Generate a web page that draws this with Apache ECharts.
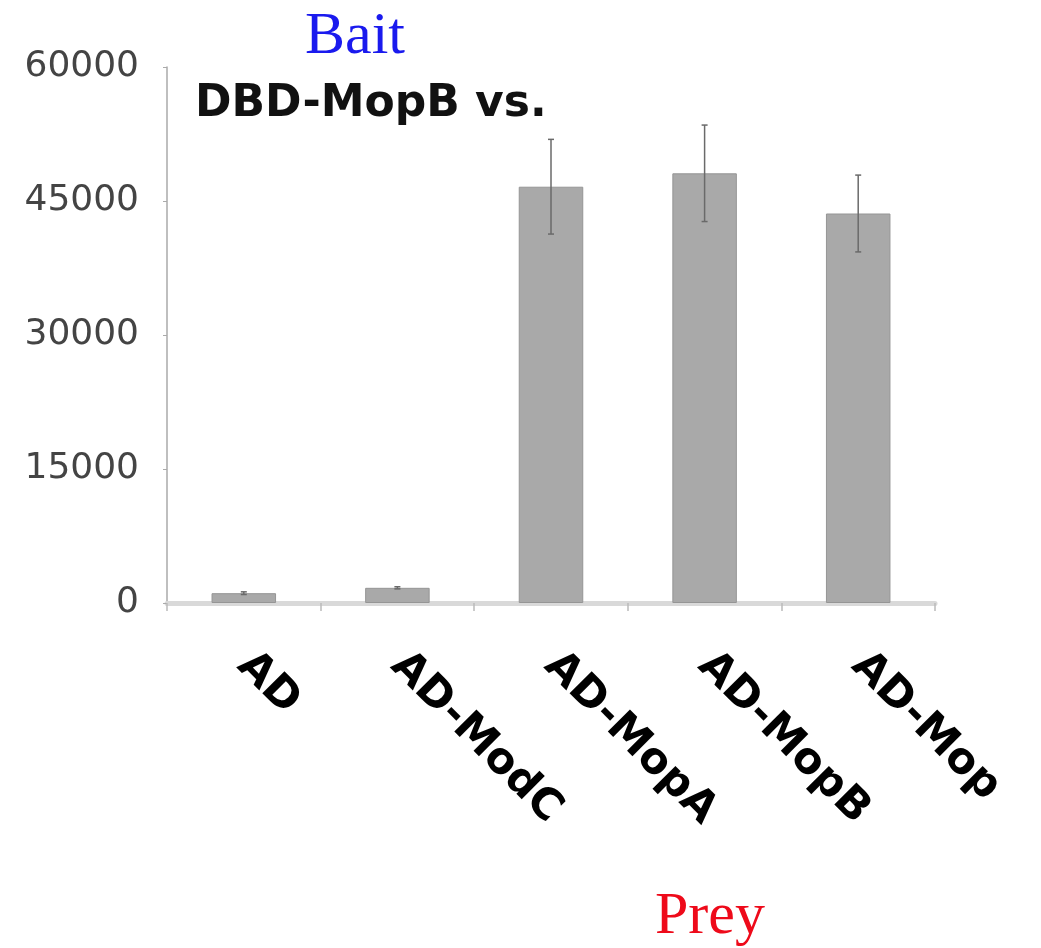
<!DOCTYPE html>
<html>
<head>
<meta charset="utf-8">
<script src="https://cdn.jsdelivr.net/npm/echarts@6/dist/echarts.min.js"></script>
<style>html,body{margin:0;padding:0;background:#fff}#c{width:1041px;height:948px}</style>
</head>
<body>
<div id="c"></div>
<script>
const categories = ['AD', 'AD-ModC', 'AD-MopA', 'AD-MopB', 'AD-Mop'];
const values = [1100, 1700, 46600, 48100, 43600];
const errors = [150, 120, 5300, 5400, 4300];
const yMax = 60000;
const yInterval = 15000;
const titleText = 'DBD-MopB vs.';
const baitText = 'Bait';
const preyText = 'Prey';

const chart = echarts.init(document.getElementById('c'));
const errData = values.map((v, i) => [i, v - errors[i], v + errors[i]]);

chart.setOption({
  animation: false,
  backgroundColor: '#ffffff',
  grid: { left: 167, right: 106, top: 67, bottom: 345, containLabel: false },
  xAxis: {
    type: 'category',
    data: categories,
    boundaryGap: true,
    axisLine: { show: true, lineStyle: { color: '#d9d9d9', width: 5 } },
    axisTick: { show: true, alignWithLabel: false, length: 8, lineStyle: { color: '#bbbbbb', width: 1.5 } },
    axisLabel: {
      rotate: -45,
      margin: 56,
      interval: 0,
      fontFamily: 'DejaVu Sans',
      fontWeight: 'bold',
      fontSize: 43,
      color: '#000000'
    },
    splitLine: { show: false }
  },
  yAxis: {
    type: 'value',
    min: 0,
    max: yMax,
    interval: yInterval,
    axisLine: { show: true, lineStyle: { color: '#aaaaaa', width: 1.5 } },
    axisTick: { show: true, length: 4, lineStyle: { color: '#aaaaaa' } },
    axisLabel: {
      margin: 28,
      fontFamily: 'DejaVu Sans',
      fontSize: 36,
      color: '#444444',
      formatter: function (v) { return String(v); }
    },
    splitLine: { show: false }
  },
  series: [
    {
      type: 'bar',
      data: values,
      barWidth: '42%',
      itemStyle: { color: '#a9a9a9', borderColor: '#959595', borderWidth: 1 }
    },
    {
      type: 'custom',
      data: errData,
      z: 10,
      renderItem: function (params, api) {
        const x = api.value(0);
        const lo = api.coord([x, api.value(1)]);
        const hi = api.coord([x, api.value(2)]);
        const cap = 3;
        const st = { stroke: '#6a6a6a', lineWidth: 1.5 };
        return {
          type: 'group',
          children: [
            { type: 'line', shape: { x1: lo[0], y1: lo[1], x2: hi[0], y2: hi[1] }, style: st },
            { type: 'line', shape: { x1: hi[0] - cap, y1: hi[1], x2: hi[0] + cap, y2: hi[1] }, style: st },
            { type: 'line', shape: { x1: lo[0] - cap, y1: lo[1], x2: lo[0] + cap, y2: lo[1] }, style: st }
          ]
        };
      }
    }
  ],
  graphic: [
    { type: 'text', left: 195, top: 83, style: { text: titleText, font: 'bold 44px "DejaVu Sans"', fill: '#111111' } },
    { type: 'text', left: 305, top: 7, style: { text: baitText, font: '60px "Liberation Serif"', fill: '#1a1aee' } },
    { type: 'text', left: 655, top: 887, style: { text: preyText, font: '60px "Liberation Serif"', fill: '#ee0a1a' } }
  ]
});
</script>
</body>
</html>
